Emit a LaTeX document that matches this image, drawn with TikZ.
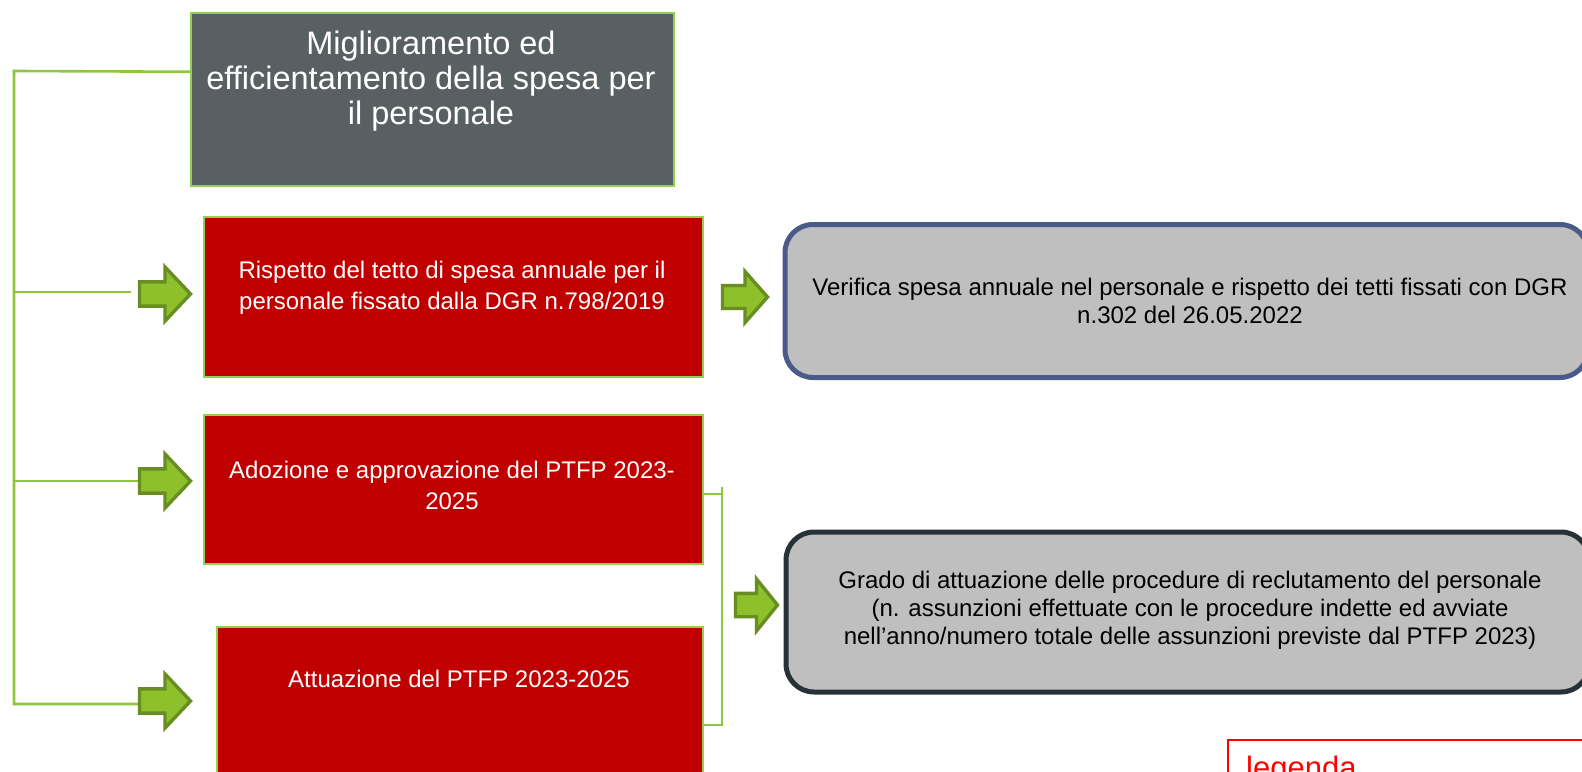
\documentclass[tikz,border=0pt]{standalone}
\usepackage{fontspec}
\setmainfont{Liberation Sans}
\definecolor{lgreen}{RGB}{146,208,80}
\definecolor{conngreen}{RGB}{141,198,63}
\definecolor{arrfill}{RGB}{142,192,44}
\definecolor{arrline}{RGB}{104,142,35}
\definecolor{topgray}{RGB}{89,96,99}
\definecolor{boxred}{RGB}{192,0,0}
\definecolor{boxgray}{RGB}{191,191,191}
\definecolor{bluegray}{RGB}{75,91,137}
\definecolor{darkslate}{RGB}{38,50,56}
\newcommand{\greenarrow}[4]{%
  \draw[arrowsty] (#1,#2-0.225*#4) -- (#1+0.5*#3,#2-0.225*#4) -- (#1+0.5*#3,#2-0.5*#4)
    -- (#1+#3,#2) -- (#1+0.5*#3,#2+0.5*#4) -- (#1+0.5*#3,#2+0.225*#4) -- (#1,#2+0.225*#4) -- cycle;}
\begin{document}
\begin{tikzpicture}[x=1pt,y=-1pt,
  conn/.style={draw=conngreen, line width=2.6pt},
  arrowsty/.style={fill=arrfill, draw=arrline, line width=3.4pt, line join=miter},
  topbox/.style={draw=lgreen, line width=1.5pt, fill=topgray, anchor=north west, inner sep=0pt},
  redbox/.style={draw=lgreen, line width=1.5pt, fill=boxred, anchor=north west, inner sep=0pt},
  graybox/.style={fill=boxgray, line width=5pt, rounded corners=28pt, anchor=north west, inner sep=0pt},
  toptxt/.style={text=white, font=\fontsize{32.5}{35}\selectfont, align=center, inner sep=0pt},
  redtxt/.style={text=white, font=\fontsize{24}{31}\selectfont, align=center, inner sep=0pt},
  graytxt/.style={text=black, font=\fontsize{24}{28}\selectfont, align=center, inner sep=0pt},
  legbox/.style={draw=red, line width=2pt, fill=white, anchor=north west, inner sep=0pt}
]
\useasboundingbox (0,0) rectangle (1582,771);
\clip (0,0) rectangle (1582,771);
\fill[white] (0,0) rectangle (1582,771);

% boxes
\node[topbox, minimum width=483pt, minimum height=173pt] (top) at (190,12) {};
\node[toptxt] (toptext) at (431,81) {Miglioramento ed\\efficientamento della spesa per\\il personale};

\node[redbox, minimum width=499pt, minimum height=160pt] (red1) at (203,216) {};
\node[redtxt] (red1text) at (452,288) {Rispetto del tetto di spesa annuale per il\\personale fissato dalla DGR n.798/2019};

\node[redbox, minimum width=499pt, minimum height=149pt] (red2) at (203,414) {};
\node[redtxt] (red2text) at (452,485) {Adozione e approvazione del PTFP 2023-\\2025};

\node[redbox, minimum width=486pt, minimum height=200pt] (red3) at (216,626) {};
\node[redtxt] (red3text) at (459,679) {Attuazione del PTFP 2023-2025};

\node[graybox, draw=bluegray, minimum width=803pt, minimum height=153pt] (gray1) at (782.5,222) {};
\node[graytxt] (gray1text) at (1190,301) {Verifica spesa annuale nel personale e rispetto dei tetti fissati con DGR\\n.302 del 26.05.2022};

\node[graybox, draw=darkslate, minimum width=803pt, minimum height=160pt] (gray2) at (783.5,529.5) {};
\node[graytxt] (gray2text) at (1190,610) {Grado di attuazione delle procedure di reclutamento del personale\\(n. assunzioni effettuate con le procedure indette ed avviate\\nell’anno/numero totale delle assunzioni previste dal PTFP 2023)};

\node[legbox, minimum width=400pt, minimum height=100pt] (leg) at (1227,739) {};
\node[text=red, font=\fontsize{31}{35}\selectfont, anchor=base west, inner sep=0pt] (legtext) at (1246,778) {legenda};

% connectors
\coordinate (bTop) at (14,71);
\coordinate (b1) at (14,292);
\coordinate (b2) at (14,481);
\coordinate (b3) at (14,704);
\coordinate (e1) at (131,292);
\coordinate (e2) at (138,481);
\coordinate (e3) at (138,704);
\draw[conn] ([yshift=27.5pt]top.west) -- (bTop) -- (b3) -- (e3);
\draw[conn] (b1) -- (e1);
\draw[conn] (b2) -- (e2);

\coordinate (brT) at (722,487);
\coordinate (brA) at (722,494);
\coordinate (brB) at (722,725);
\draw[conn] (red2.east |- brA) -- (brA);
\draw[conn] (brT) -- (brB) -- (red3.east |- brB);

% block arrows
\greenarrow{139.5}{294}{51}{54}
\greenarrow{139.5}{481}{51}{54}
\greenarrow{139.5}{701}{51}{54}
\greenarrow{722.5}{297}{45}{51}
\greenarrow{735.5}{605}{42}{52}
\end{tikzpicture}
\end{document}
